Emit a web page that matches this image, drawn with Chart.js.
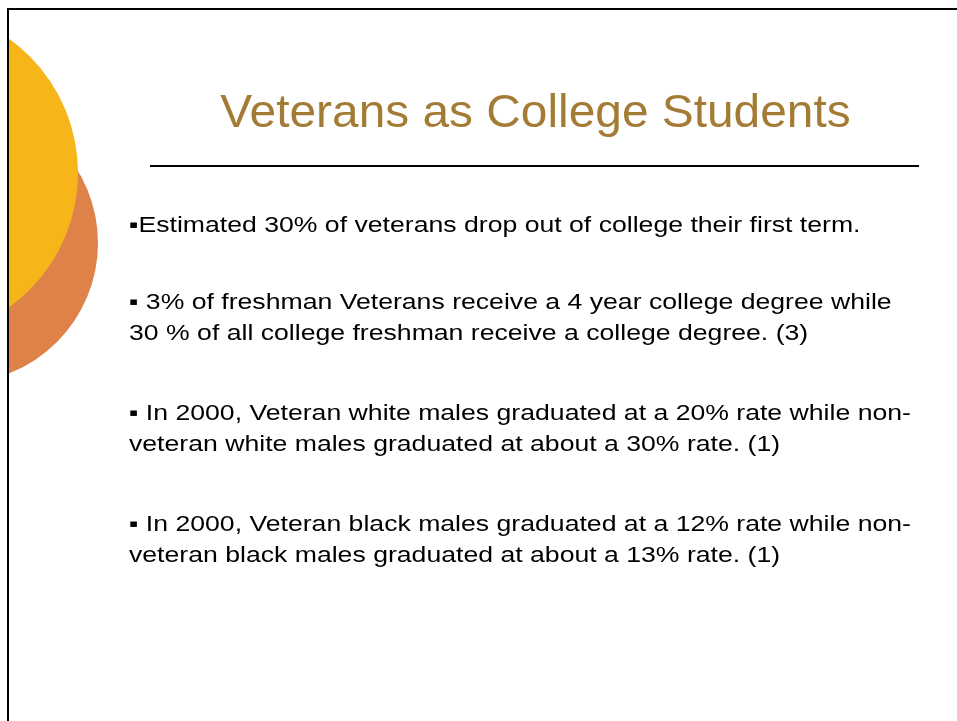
<!DOCTYPE html>
<html>
<head>
<meta charset="utf-8">
<script src="https://cdn.jsdelivr.net/npm/chart.js@4"></script>
<style>
  html, body { margin: 0; padding: 0; background: #fff; }
  body { width: 957px; height: 721px; position: relative; overflow: hidden;
         font-family: "Liberation Sans", Arial, sans-serif; }
  #deco { position: absolute; left: 9px; top: 10px; }
  .line { position: absolute; background: #000; }
  .title { position: absolute; left: 0; width: 1071px; top: 88px; text-align: center;
           font-size: 46px; line-height: 46px; color: #A47B35; white-space: nowrap;
           transform: scaleX(1.04); transform-origin: 535.5px 0; }
  .bullet { position: absolute; left: 129px; font-size: 22px; line-height: 30.5px;
            color: #000; white-space: nowrap;
            transform: scaleX(1.21); transform-origin: 0 0; }
</style>
</head>
<body>
<canvas id="deco" width="948" height="711"></canvas>
<div class="line" style="left:7px;top:8px;width:950px;height:2px"></div>
<div class="line" style="left:7px;top:8px;width:2px;height:713px"></div>
<div class="line" style="left:150px;top:165px;width:769px;height:2px"></div>

<div class="title">Veterans as College Students</div>

<div class="bullet" style="top:210px">▪Estimated 30% of veterans drop out of college their first term.</div>
<div class="bullet" style="top:287px">▪ 3% of freshman Veterans receive a 4 year college degree while<br>30 % of all college freshman receive a college degree. (3)</div>
<div class="bullet" style="top:398px">▪ In 2000, Veteran white males graduated at a 20% rate while non-<br>veteran white males graduated at about a 30% rate. (1)</div>
<div class="bullet" style="top:509px">▪ In 2000, Veteran black males graduated at a 12% rate while non-<br>veteran black males graduated at about a 13% rate. (1)</div>

<script>
// decorative circles, in page pixel units
const circleNames = ["yellow", "orange"];
const circleX = [-87, -42];
const circleY = [173, 243];
const circleR = [165, 140];
const circleColors = ["#F6B519", "#DE824A"];

const datasets = circleNames.map((name, i) => ({
  label: name,
  data: [{ x: circleX[i], y: circleY[i], r: circleR[i] }],
  backgroundColor: circleColors[i],
  borderWidth: 0,
  hoverRadius: 0,
  hoverBorderWidth: 0,
  clip: 0,
  order: i
}));

new Chart(document.getElementById("deco"), {
  type: "bubble",
  data: { datasets },
  options: {
    responsive: false,
    animation: false,
    devicePixelRatio: 1,
    layout: { padding: 0, autoPadding: false },
    events: [],
    plugins: { legend: { display: false }, tooltip: { enabled: false } },
    scales: {
      x: { type: "linear", min: 9, max: 957, display: false },
      y: { type: "linear", min: 10, max: 721, reverse: true, display: false }
    }
  }
});
</script>
</body>
</html>
